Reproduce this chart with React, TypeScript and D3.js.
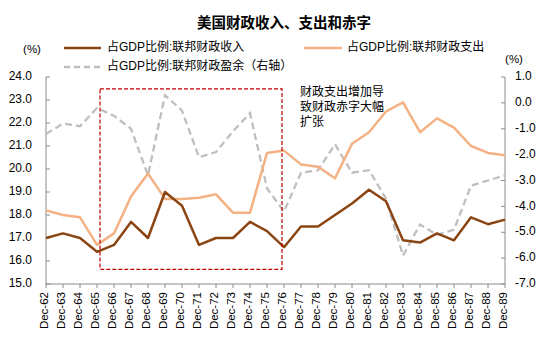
import React from "react";
import * as d3 from "d3";

const categories = [
  "Dec-62", "Dec-63", "Dec-64", "Dec-65", "Dec-66", "Dec-67", "Dec-68", "Dec-69", "Dec-70",
  "Dec-71", "Dec-72", "Dec-73", "Dec-74", "Dec-75", "Dec-76", "Dec-77", "Dec-78", "Dec-79",
  "Dec-80", "Dec-81", "Dec-82", "Dec-83", "Dec-84", "Dec-85", "Dec-86", "Dec-87", "Dec-88", "Dec-89",
];

const revenue = [
  17.0, 17.2, 17.0, 16.4, 16.7, 17.7, 17.0, 19.0, 18.4, 16.7, 17.0, 17.0, 17.7, 17.3,
  16.6, 17.5, 17.5, 18.0, 18.5, 19.1, 18.6, 16.9, 16.8, 17.2, 16.9, 17.9, 17.6, 17.8,
];

const outlays = [
  18.2, 18.0, 17.9, 16.7, 17.2, 18.8, 19.8, 18.7, 18.7, 18.75, 18.9, 18.1, 18.1, 20.7,
  20.8, 20.2, 20.1, 19.6, 21.1, 21.6, 22.5, 22.9, 21.6, 22.2, 21.8, 21.0, 20.7, 20.6,
];

const surplus = [
  -1.2, -0.8, -0.9, -0.2, -0.5, -1.0, -2.8, 0.3, -0.3, -2.1, -1.9, -1.1, -0.4, -3.3,
  -4.2, -2.7, -2.6, -1.6, -2.7, -2.6, -3.7, -5.9, -4.7, -5.1, -4.9, -3.2, -3.0, -2.8,
];

const leftTicks = [15, 16, 17, 18, 19, 20, 21, 22, 23, 24];
const rightTicks = [-7, -6, -5, -4, -3, -2, -1, 0, 1];

const title = "美国财政收入、支出和赤字";
const legendNames = ["占GDP比例:联邦财政收入", "占GDP比例:联邦财政支出", "占GDP比例:联邦财政盈余（右轴）"];
const noteLines = ["财政支出增加导", "致财政赤字大幅", "扩张"];
const boxRange = { from: "Dec-65", to: "Dec-76", top: 23.48, bottom: 15.64 };

const COLORS = { revenue: "#8B4513", outlays: "#F4B183", surplus: "#BFBFBF", axis: "#8C8C8C", box: "#C00000" };
const FONT = "'Liberation Sans', Arial, 'Noto Sans CJK SC', sans-serif";

export default function App() {
  const W = 550;
  const H = 355;
  const left = 46;
  const right = 505;
  const top = 77;
  const bottom = 284;

  const x = d3.scalePoint<string>().domain(categories).range([left, right]);
  const yL = d3.scaleLinear().domain([15, 24]).range([bottom, top]);
  const yR = d3.scaleLinear().domain([-7, 1]).range([bottom, top]);

  const lineL = d3
    .line<number>()
    .x((_, i) => x(categories[i]) as number)
    .y((d) => yL(d));
  const lineR = d3
    .line<number>()
    .x((_, i) => x(categories[i]) as number)
    .y((d) => yR(d));

  const bx0 = (x(boxRange.from) as number) + 3;
  const bx1 = (x(boxRange.to) as number) - 2;
  const by0 = yL(boxRange.top);
  const by1 = yL(boxRange.bottom);

  return (
    <svg
      width={W}
      height={H}
      style={{ position: "absolute", left: 0, top: 0, background: "#fff" }}
      fontFamily={FONT}
    >
      <rect x={0} y={0} width={W} height={H} fill="#fff" />
      {/* title */}
      <text x={284} y={24} textAnchor="middle" dominantBaseline="middle" fontSize={14.5} fontWeight="bold" fill="#000">
        {title}
      </text>

      {/* unit labels */}
      <text x={32} y={50} textAnchor="middle" dominantBaseline="middle" fontSize={11.5} fill="#000">
        (%)
      </text>
      <text x={514} y={60} textAnchor="middle" dominantBaseline="middle" fontSize={11.5} fill="#000">
        (%)
      </text>

      {/* legend */}
      <line x1={64} x2={101} y1={48} y2={48} stroke={COLORS.revenue} strokeWidth={2.5} />
      <text x={107} y={48} dominantBaseline="middle" fontSize={12} fill="#000">
        {legendNames[0]}
      </text>
      <line x1={304} x2={342} y1={48} y2={48} stroke={COLORS.outlays} strokeWidth={2.5} />
      <text x={347} y={48} dominantBaseline="middle" fontSize={12} fill="#000">
        {legendNames[1]}
      </text>
      <line x1={64} x2={101} y1={67} y2={67} stroke={COLORS.surplus} strokeWidth={2.5} strokeDasharray="6,4" />
      <text x={107} y={67} dominantBaseline="middle" fontSize={12} fill="#000">
        {legendNames[2]}
      </text>

      {/* axes */}
      <line x1={left} x2={left} y1={top} y2={bottom} stroke={COLORS.axis} strokeWidth={1} />
      <line x1={right} x2={right} y1={top} y2={bottom} stroke={COLORS.axis} strokeWidth={1} />
      <line x1={left} x2={right} y1={bottom} y2={bottom} stroke={COLORS.axis} strokeWidth={1} />

      {leftTicks.map((t) => (
        <g key={"l" + t}>
          <line x1={left} x2={left + 4} y1={yL(t)} y2={yL(t)} stroke={COLORS.axis} />
          <text x={32} y={yL(t)} textAnchor="end" dominantBaseline="middle" fontSize={12} fill="#000">
            {t.toFixed(1)}
          </text>
        </g>
      ))}
      {rightTicks.map((t) => (
        <g key={"r" + t}>
          <line x1={right - 4} x2={right} y1={yR(t)} y2={yR(t)} stroke={COLORS.axis} />
          <text x={515} y={yR(t)} textAnchor="start" dominantBaseline="middle" fontSize={12} fill="#000">
            {t.toFixed(1)}
          </text>
        </g>
      ))}
      {categories.map((c) => {
        const cx = x(c) as number;
        return (
          <g key={c}>
            <line x1={cx} x2={cx} y1={bottom} y2={bottom + 4} stroke={COLORS.axis} />
            <text
              transform={`translate(${cx - 1},${bottom + 8}) rotate(-90)`}
              textAnchor="end"
              dominantBaseline="middle"
              fontSize={11.5}
              fill="#000"
            >
              {c}
            </text>
          </g>
        );
      })}

      {/* series */}
      <path d={lineR(surplus) || ""} fill="none" stroke={COLORS.surplus} strokeWidth={2.3} strokeDasharray="7,4" />
      <path d={lineL(outlays) || ""} fill="none" stroke={COLORS.outlays} strokeWidth={2.5} strokeLinejoin="round" />
      <path d={lineL(revenue) || ""} fill="none" stroke={COLORS.revenue} strokeWidth={2.5} strokeLinejoin="round" />

      {/* highlight box */}
      <rect
        x={bx0}
        y={by0}
        width={bx1 - bx0}
        height={by1 - by0}
        fill="none"
        stroke={COLORS.box}
        strokeWidth={1.2}
        strokeDasharray="4,2"
      />

      {/* note */}
      {noteLines.map((l, i) => (
        <text key={l} x={300} y={93 + i * 15} dominantBaseline="middle" fontSize={12} fill="#000">
          {l}
        </text>
      ))}
    </svg>
  );
}
